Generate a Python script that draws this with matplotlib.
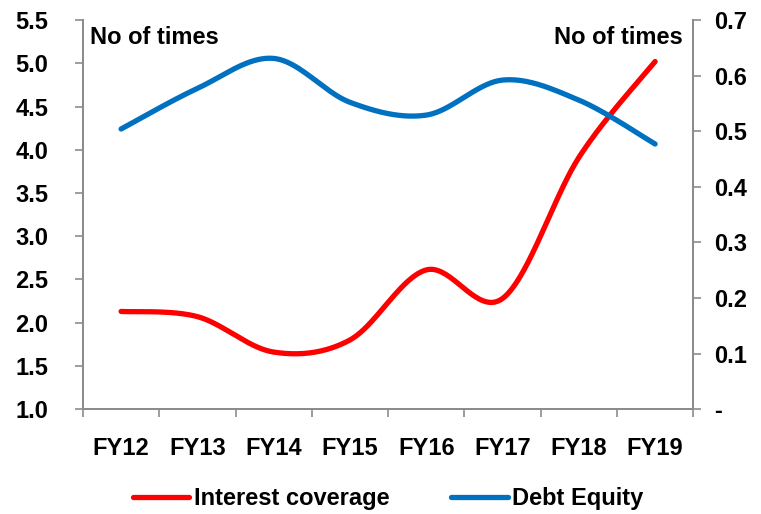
import numpy as np
import matplotlib.pyplot as plt
from matplotlib.ticker import FuncFormatter

plt.rcParams['font.family'] = ['Liberation Sans', 'DejaVu Sans']
plt.rcParams['font.weight'] = 'bold'

years = ['FY12', 'FY13', 'FY14', 'FY15', 'FY16', 'FY17', 'FY18', 'FY19']
interest_coverage = [2.13, 2.07, 1.66, 1.80, 2.61, 2.28, 3.91, 5.02]
debt_equity = [0.504, 0.577, 0.631, 0.552, 0.529, 0.592, 0.556, 0.477]

RED = '#FF0000'
BLUE = '#0070C0'
GREY = '#8C8C8C'
FS = 17


# Catmull-Rom smoothing through the points (Excel-style smoothed line)
def smooth(x, y, n=40):
    x = np.asarray(x, float)
    y = np.asarray(y, float)
    px = np.concatenate(([x[0]], x, [x[-1]]))
    py = np.concatenate(([y[0]], y, [y[-1]]))
    xs, ys = [], []
    t = np.linspace(0, 1, n)
    for i in range(1, len(px) - 2):
        p0, p1, p2, p3 = px[i - 1], px[i], px[i + 1], px[i + 2]
        q0, q1, q2, q3 = py[i - 1], py[i], py[i + 1], py[i + 2]
        b0 = p1
        b1 = p1 + (p2 - p0) / 6
        b2 = p2 - (p3 - p1) / 6
        b3 = p2
        c0 = q1
        c1 = q1 + (q2 - q0) / 6
        c2 = q2 - (q3 - q1) / 6
        c3 = q2
        bx = (1 - t) ** 3 * b0 + 3 * (1 - t) ** 2 * t * b1 + 3 * (1 - t) * t ** 2 * b2 + t ** 3 * b3
        by = (1 - t) ** 3 * c0 + 3 * (1 - t) ** 2 * t * c1 + 3 * (1 - t) * t ** 2 * c2 + t ** 3 * c3
        xs.append(bx)
        ys.append(by)
    return np.concatenate(xs), np.concatenate(ys)


x = np.arange(len(years))

fig = plt.figure(figsize=(7.61, 5.14), dpi=100)
ax = fig.add_axes([0.109, 0.204, 0.802, 0.757])
ax2 = ax.twinx()

sx, sy = smooth(x, interest_coverage)
l1, = ax.plot(sx, sy, color=RED, lw=3.8, solid_capstyle='round', label='Interest coverage')
sx, sy = smooth(x, debt_equity)
l2, = ax2.plot(sx, sy, color=BLUE, lw=3.8, solid_capstyle='round', label='Debt Equity')

ax.set_xlim(-0.5, len(years) - 0.5)
ax.set_ylim(1.0, 5.5)
ax.set_yticks(np.arange(1.0, 5.51, 0.5))
ax.yaxis.set_major_formatter(FuncFormatter(lambda v, p: f'{v:.1f}'))
ax2.set_ylim(0, 0.7)
ax2.set_yticks(np.arange(0, 0.71, 0.1))
ax2.yaxis.set_major_formatter(FuncFormatter(lambda v, p: '-' if abs(v) < 1e-9 else f'{v:.1f}'))

ax.set_xticks(x)
ax.set_xticklabels(years)
ax.set_xticks(np.arange(-0.5, len(years)), minor=True)
ax.tick_params(axis='x', which='major', length=0, pad=20, labelsize=FS)
ax.tick_params(axis='x', which='minor', length=6, color=GREY, width=1.2)
ax.tick_params(axis='y', length=6, color=GREY, width=1.2, labelsize=FS, pad=19)
ax2.tick_params(axis='y', length=6, color=GREY, width=1.2, labelsize=FS, pad=9)

for a in (ax, ax2):
    a.spines['top'].set_visible(False)
    for s in ('left', 'right', 'bottom'):
        a.spines[s].set_color(GREY)
        a.spines[s].set_linewidth(1.4)

ax.text(0.012, 0.985, 'No of times', transform=ax.transAxes, ha='left', va='top', fontsize=FS)
ax.text(0.982, 0.985, 'No of times', transform=ax.transAxes, ha='right', va='top', fontsize=FS)

fig.legend(handles=[l1, l2], loc='center', bbox_to_anchor=(0.51, 0.03), ncol=2, frameon=False,
           fontsize=FS, handlelength=2.4, columnspacing=2.6, handletextpad=0.2)

fig.savefig('out.png', dpi=100)
